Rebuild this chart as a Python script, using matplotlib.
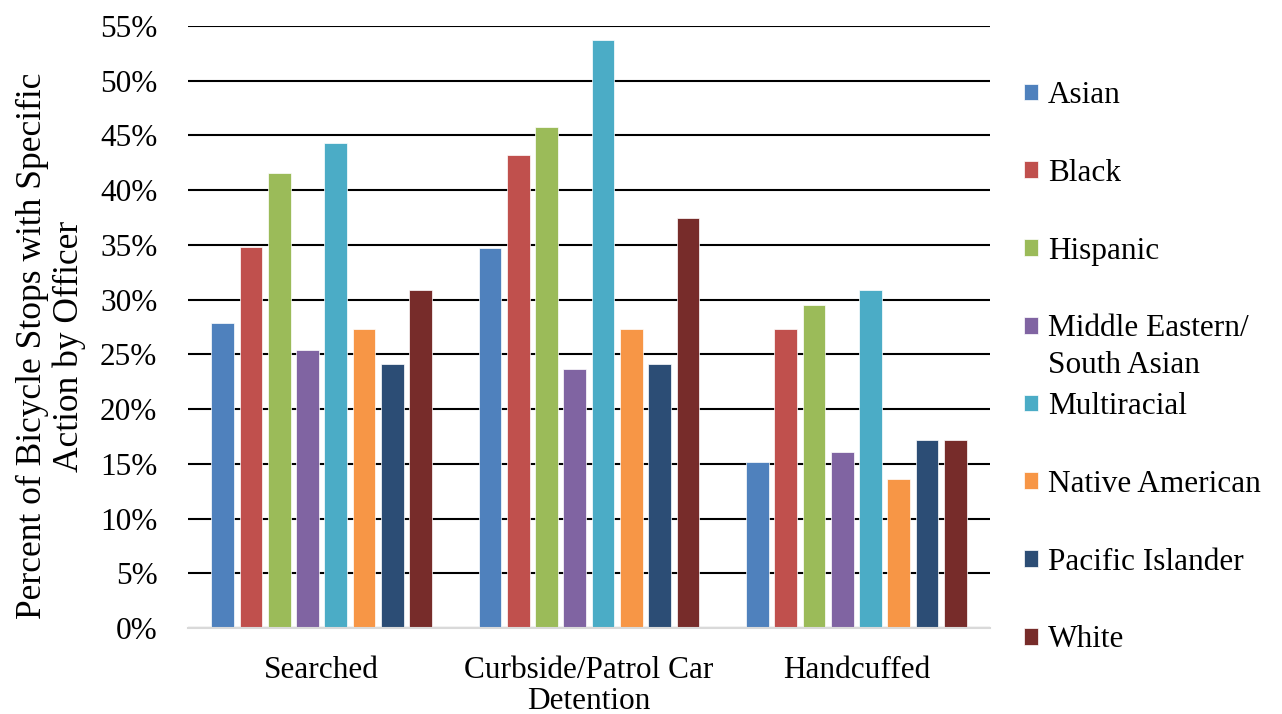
import matplotlib
matplotlib.use("Agg")
import matplotlib.pyplot as plt
import numpy as np

plt.rcParams['font.family'] = ['Liberation Serif', 'DejaVu Serif']

# share of bicycle stops with each officer action, by perceived race
actions = ["Searched", "Curbside/Patrol Car\nDetention", "Handcuffed"]
groups = ["Asian", "Black", "Hispanic", "Middle Eastern/", "Multiracial",
          "Native American", "Pacific Islander", "White"]

asian = [0.279, 0.347, 0.152]
black = [0.348, 0.432, 0.273]
hispanic = [0.416, 0.458, 0.295]
mid_east = [0.254, 0.237, 0.161]
multiracial = [0.443, 0.537, 0.309]
native_am = [0.273, 0.273, 0.136]
pacific = [0.241, 0.241, 0.172]
white = [0.309, 0.375, 0.172]

series = [asian, black, hispanic, mid_east, multiracial, native_am, pacific, white]
colors = ["#4F81BD", "#C0504D", "#9BBB59", "#8064A2", "#4BACC6",
          "#F79646", "#2C4D75", "#772C2A"]

fig = plt.figure(figsize=(12.82, 7.14), dpi=100)
ax = fig.add_axes([0.1466, 0.1204, 0.7722 - 0.1466, 0.9636 - 0.1204])

x = np.arange(len(actions))
pitch = 0.1058
width = 0.085
for i, (vals, col, lab) in enumerate(zip(series, colors, groups)):
    ax.bar(x + (i - 3.5) * pitch, vals, width, color=col, label=lab,
           edgecolor="white", linewidth=0.5, zorder=3)

ax.set_xlim(-0.5, 2.5)
ax.set_ylim(0, 0.55)
ax.set_yticks(np.arange(0, 0.551, 0.05))
ax.set_yticklabels([f"{int(round(v * 100))}%" for v in np.arange(0, 0.551, 0.05)])
ax.set_xticks(x)
ax.set_xticklabels(actions, linespacing=1.1)

ax.yaxis.grid(True, color="black", linewidth=1.5, zorder=0)
ax.set_axisbelow(True)
for s in ["top", "right", "left"]:
    ax.spines[s].set_visible(False)
ax.spines["bottom"].set_color("#d9d9d9")
ax.spines["bottom"].set_linewidth(1.5)
ax.spines["bottom"].set_zorder(4)
ax.tick_params(axis="y", length=0, pad=22, labelsize=22.5)
ax.tick_params(axis="x", length=0, pad=20, labelsize=22.5)

fig.text(0.0395, 0.515, "Percent of Bicycle Stops with Specific\nAction by Officer",
         rotation=90, ha="center", va="center", multialignment="center",
         fontsize=25.5, linespacing=1.15)

leg = ax.legend(loc="center left", bbox_to_anchor=(0.7988, 0.485),
                bbox_transform=fig.transFigure, frameon=False, fontsize=22.5,
                handlelength=0.45, handleheight=0.45, handletextpad=0.32,
                labelspacing=1.56, borderpad=0, borderaxespad=0)

# second line of the Middle Eastern entry hangs under the first
fig.canvas.draw()
t = leg.get_texts()[3]
bb = t.get_window_extent()
inv = fig.transFigure.inverted()
x0, y0 = inv.transform((bb.x0, bb.y0))
fig.text(x0, y0 - 37 / 714, "South Asian", fontsize=22.5, ha="left", va="bottom")

fig.savefig("out.png", dpi=100)
